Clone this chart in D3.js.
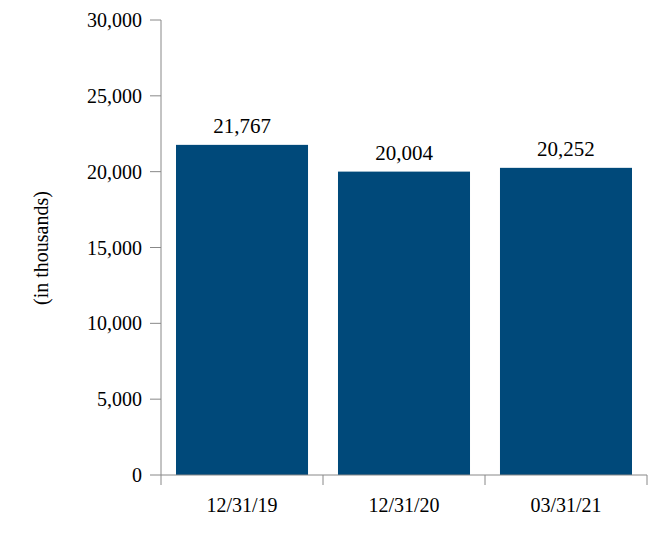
<!DOCTYPE html>
<html><head><meta charset="utf-8">
<script src="https://cdn.jsdelivr.net/npm/d3@7"></script>
<style>body{margin:0;background:#fff}svg{font-family:"Liberation Serif","Times New Roman",serif}</style>
</head><body>
<script>
const categories = ["12/31/19","12/31/20","03/31/21"];
const values = [21767, 20004, 20252];
const yTicks = [0,5000,10000,15000,20000,25000,30000];

const W=668,H=538;
const svg=d3.select("body").append("svg").attr("width",W).attr("height",H);
const x=d3.scaleBand().domain(categories).range([161,647]).paddingInner(0.185).paddingOuter(0.0926);
const y=d3.scaleLinear().domain([0,30000]).range([475,20]);
const fmt=d3.format(",");
const grey="#888";

svg.selectAll("rect").data(values).join("rect")
 .attr("x",(d,i)=>x(categories[i])).attr("width",x.bandwidth())
 .attr("y",d=>y(d)).attr("height",d=>y(0)-y(d)).attr("fill","#00497A");

svg.selectAll(".lbl").data(values).join("text")
 .attr("x",(d,i)=>x(categories[i])+x.bandwidth()/2).attr("y",d=>y(d)-12)
 .attr("text-anchor","middle").attr("font-size",21).attr("fill","#000").text(d=>fmt(d));

// y axis
svg.append("line").attr("x1",161).attr("x2",161).attr("y1",y(30000)).attr("y2",y(0)).attr("stroke",grey);
yTicks.forEach(t=>{
 svg.append("line").attr("x1",150).attr("x2",161).attr("y1",y(t)).attr("y2",y(t)).attr("stroke",grey);
 svg.append("text").attr("x",142).attr("y",y(t)).attr("dy","0.35em").attr("text-anchor","end")
  .attr("font-size",20).text(fmt(t));
});
// x axis
svg.append("line").attr("x1",161).attr("x2",647).attr("y1",y(0)).attr("y2",y(0)).attr("stroke",grey);
const step=x.step();
[0,1,2,3].forEach(i=>{
 const px=161+i*(486/3);
 svg.append("line").attr("x1",px).attr("x2",px).attr("y1",y(0)).attr("y2",y(0)+10).attr("stroke",grey);
});
categories.forEach(c=>{
 svg.append("text").attr("x",x(c)+x.bandwidth()/2).attr("y",512).attr("text-anchor","middle")
  .attr("font-size",20).text(c);
});
svg.append("text").attr("transform","translate(48,248) rotate(-90)").attr("text-anchor","middle")
 .attr("font-size",20).text("(in thousands)");
</script>
</body></html>
